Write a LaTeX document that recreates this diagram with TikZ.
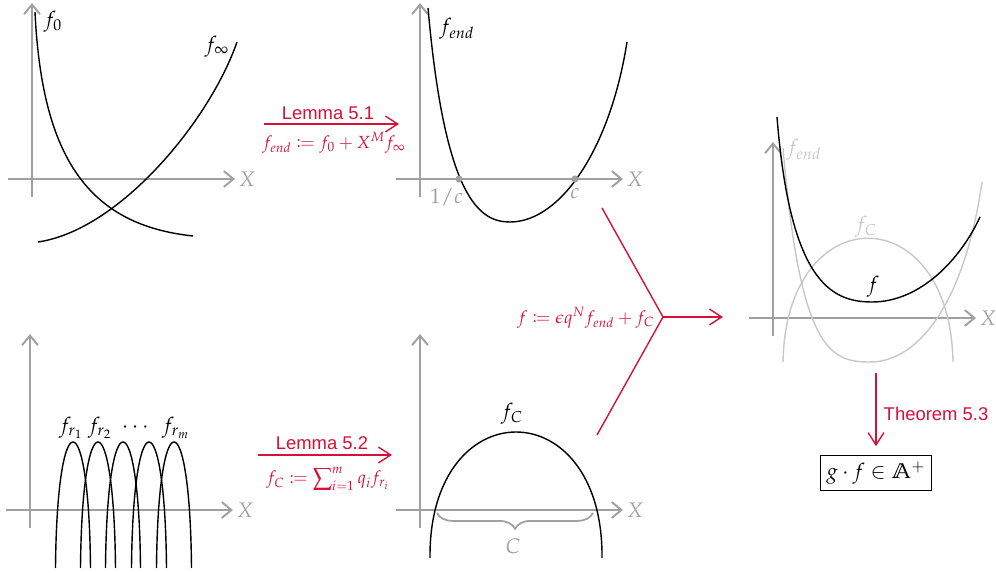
\documentclass[tikz,border=0pt]{standalone}
\usepackage{amsmath, amssymb, mathtools}
\usepackage{mathpazo}
\usepackage[no-math]{fontspec}
\setsansfont{Liberation Sans}
\usetikzlibrary{positioning}
\usetikzlibrary{arrows.meta}
\usetikzlibrary{decorations.pathreplacing}
\definecolor{lemred}{RGB}{212,18,56}
\definecolor{axgray}{RGB}{160,160,160}
\definecolor{ghgray}{RGB}{200,200,200}

\begin{document}
\begin{tikzpicture}[x=0.02cm, y=-0.02cm,
	ax/.style={draw=axgray, line width=1.1pt, -{Straight Barb[length=5.5pt, width=9pt]}},
	crv/.style={draw=black, line width=0.8pt},
	ghost/.style={draw=ghgray, line width=0.8pt},
	lab/.style={font=\large, inner sep=1pt},
	xlab/.style={lab, text=axgray},
	glab/.style={lab, text=ghgray},
	rline/.style={draw=lemred, line width=0.8pt},
	rarr/.style={rline, -{Straight Barb[length=7pt, width=9pt]}},
	lem/.style={text=lemred, font=\sffamily\fontsize{10.5}{12}\selectfont, inner sep=2pt},
	rmath/.style={text=lemred, font=\normalsize, inner sep=2pt},
	root/.style={circle, fill=axgray, inner sep=0pt, minimum size=4pt},
	res/.style={rectangle, draw=black, line width=0.7pt, font=\large, minimum width=60pt, minimum height=19pt},
	]
	\useasboundingbox (0,0) rectangle (996,573);

	%Axes
	\foreach \ox/\oy/\nm in {32/179/tl, 420/179/tm, 30/510/bl, 420/510/bm, 773/318/rt}{
		\draw[ax] (\ox,\oy+18) -- (\ox,\oy-176);
		\draw[ax] (\ox-24,\oy) -- (\ox+203,\oy);
		\node[xlab] (X\nm) at (\ox+215,\oy) {$X$};
	}

	%Curves
	\draw[crv] (35,12) .. controls (42,160) and (90,225) .. (193,236);
	\draw[crv] (38,242) .. controls (120,230) and (210,120) .. (237,42);
	\draw[crv] (428,8) .. controls (445,200) and (480,222) .. (510,222)
		.. controls (560,222) and (610,150) .. (627,42);
	\foreach \px in {73,98,123,149,174}
		\draw[crv] (\px-17.5,568) .. controls (\px-16,400) and (\px+16,400) .. (\px+17.5,568);
	\draw[crv] (430,558) .. controls (428.5,390) and (603.5,390) .. (602,558);
	\draw[ghost] (783,148) .. controls (800,350) and (830,362) .. (870,362)
		.. controls (920,362) and (965,300) .. (982,182);
	\draw[ghost] (783,362) .. controls (786,197) and (950,197) .. (953,362);
	\draw[crv] (777,117) .. controls (790,280) and (830,302) .. (872,302)
		.. controls (920,302) and (960,260) .. (980,217);

	%Nodes
	\node[lab]  (f0)   at (53,22)   {$f_0$};
	\node[lab]  (finf) at (217,47)  {$f_\infty$};
	\node[lab]  (fend) at (457,29)  {$f_{end}$};
	\node[root] (r1)   at (459,179) {};
	\node[root] (r2)   at (575,179) {};
	\node[xlab] (r1l)  [below=2pt of r1, xshift=-7pt] {$1/c$};
	\node[xlab] (r2l)  [below=2pt of r2] {$c$};
	\node[lab]  (fr1)  at (71,428)  {$f_{r_1}$};
	\node[lab]  (fr2)  at (100,428) {$f_{r_2}$};
	\node[lab]  (frd)  at (137,428) {$\cdots$};
	\node[lab]  (frm)  at (176,428) {$f_{r_m}$};
	\node[lab]  (fC)   at (512,414) {$f_C$};
	\coordinate (cl) at (437,513);
	\coordinate (cr) at (593,513);
	\draw[draw=axgray, line width=1pt, decorate, decoration={brace, mirror, amplitude=9pt}] (cl) -- (cr);
	\node[xlab] (Cl)   at (513,546) {$C$};
	\node[glab] (gfend) at (804,150) {$f_{end}$};
	\node[glab] (gfC)  at (866,227) {$f_C$};
	\node[lab]  (ff)   at (873,287) {$f$};
	\node[res]  (gf)   at (876,473) {$g\cdot f\in\mathbb{A}^+$};

	%Lines
	\coordinate (l1a) at (264,124);
	\coordinate (l1b) at (399,124);
	\draw[rarr] (l1a) -- (l1b);
	\node[lem]   (lem1) at (328,113) {Lemma 5.1};
	\node[rmath] (def1) at (334,143) {$f_{end} \coloneqq f_0 + X^M f_\infty$};

	\coordinate (l2a) at (258,455);
	\coordinate (l2b) at (392,455);
	\draw[rarr] (l2a) -- (l2b);
	\node[lem]   (lem2) at (322,443) {Lemma 5.2};
	\node[rmath] (def2) at (328,479) {$f_C \coloneqq \displaystyle\sum\nolimits_{i=1}^m q_i f_{r_i}$};

	\coordinate (jtop) at (602,208);
	\coordinate (jbot) at (597,435);
	\coordinate (jmid) at (663,317);
	\coordinate (jend) at (723,317);
	\draw[rline] (jtop) -- (jmid) -- (jbot);
	\draw[rarr] (jmid) -- (jend);
	\node[rmath, anchor=east] (def3) at (658,318) {$f \coloneqq \epsilon q^N f_{end} + f_C$};

	\coordinate (thm) at (876,373);
	\draw[rarr, shorten >=5pt] (thm) -- node[lem, right=2pt] (thm3) {Theorem 5.3} (gf);
\end{tikzpicture}
\end{document}
